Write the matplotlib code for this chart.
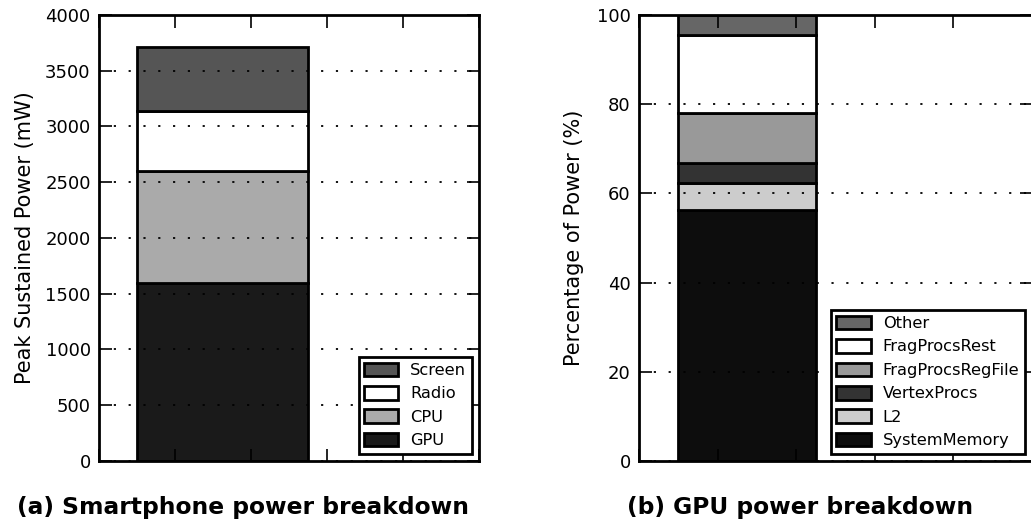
import matplotlib
matplotlib.use("Agg")
import matplotlib.pyplot as plt
from matplotlib.ticker import MultipleLocator

# Smartphone component power (mW), stacked bottom to top
phone_parts = ["GPU", "CPU", "Radio", "Screen"]
phone_power = [1600, 1000, 540, 570]
phone_colors = ["#1a1a1a", "#aaaaaa", "#ffffff", "#555555"]

# GPU power share (%), stacked bottom to top
gpu_parts = ["SystemMemory", "L2", "VertexProcs", "FragProcsRegFile", "FragProcsRest", "Other"]
gpu_share = [56.3, 6.1, 4.4, 11.2, 17.6, 4.4]
gpu_colors = ["#0d0d0d", "#cccccc", "#333333", "#999999", "#ffffff", "#666666"]

fig = plt.figure(figsize=(10.31, 5.30), dpi=100)
ax1 = fig.add_axes([0.0960, 0.1302, 0.3686, 0.8415])
ax2 = fig.add_axes([0.6198, 0.1302, 0.3812, 0.8415])


def stacked(ax, parts, values, colors, left, width, ymax, step, ylabel, labelpad):
    bottom = 0
    handles = []
    for name, v, c in zip(parts, values, colors):
        h = ax.bar(left, v, width=width, bottom=bottom, align="edge",
                   color=c, edgecolor="black", linewidth=2.0, label=name,
                   zorder=1)
        handles.append(h)
        bottom += v
    ax.set_xlim(0, 1)
    ax.set_ylim(0, ymax)
    ax.xaxis.set_major_locator(MultipleLocator(0.2))
    ax.yaxis.set_major_locator(MultipleLocator(step))
    ax.set_xticklabels([])
    ax.tick_params(direction="in", length=9, width=1.2, top=True, right=True,
                   labelsize=13, pad=6)
    ax.tick_params(axis="x", labelbottom=False)
    ax.set_axisbelow(False)
    ax.yaxis.grid(True, color="black", linestyle=(0, (1.2, 7)), linewidth=1.3)
    ax.xaxis.grid(False)
    for s in ax.spines.values():
        s.set_linewidth(2.0)
    ax.set_ylabel(ylabel, fontsize=15, labelpad=labelpad)
    leg = ax.legend(handles[::-1], parts[::-1], loc="lower right", fontsize=11.7,
                    fancybox=False, framealpha=1, edgecolor="black",
                    handlelength=2.1, handleheight=0.9, labelspacing=0.5,
                    borderpad=0.33, handletextpad=0.75, borderaxespad=0.45)
    leg.get_frame().set_linewidth(2.0)
    leg.set_zorder(5)
    for p in leg.get_patches():
        p.set_linewidth(2.0)


stacked(ax1, phone_parts, phone_power, phone_colors, 0.1, 0.45, 4000, 500,
        "Peak Sustained Power (mW)", 7.5)
stacked(ax2, gpu_parts, gpu_share, gpu_colors, 0.1, 0.35, 100, 20,
        "Percentage of Power (%)", 9)

fig.text(0.236, 0.042, "(a) Smartphone power breakdown", fontsize=16.8,
         fontweight="bold", ha="center", va="center", family="DejaVu Sans")
fig.text(0.776, 0.042, "(b) GPU power breakdown", fontsize=16.8,
         fontweight="bold", ha="center", va="center", family="DejaVu Sans")

fig.savefig("out.png", dpi=100)
